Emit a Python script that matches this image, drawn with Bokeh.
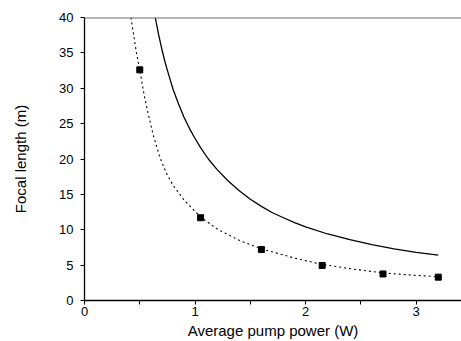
from bokeh.plotting import figure
from bokeh.models import Range1d, FixedTicker, Span
from bokeh.embed import file_html
from bokeh.resources import INLINE

# Measured data points
power_pts = [0.50, 1.05, 1.60, 2.15, 2.70, 3.20]
focal_pts = [32.6, 11.7, 7.2, 4.95, 3.75, 3.3]

# Dashed fitted curve
dash_p = [0.42, 0.45, 0.47, 0.50, 0.54, 0.57, 0.62, 0.68, 0.74, 0.80, 0.90, 1.05, 1.20, 1.40, 1.60, 1.90, 2.15, 2.40, 2.70, 3.00, 3.20]
dash_f = [40.0, 37.0, 35.0, 32.6, 29.0, 26.8, 23.5, 20.3, 18.0, 16.3, 14.2, 11.8, 10.1, 8.5, 7.3, 6.0, 5.1, 4.5, 3.9, 3.55, 3.35]

# Solid curve
solid_p = [0.64, 0.67, 0.70, 0.73, 0.76, 0.80, 0.85, 0.90, 0.95, 1.00, 1.05, 1.12, 1.20, 1.30, 1.40, 1.50, 1.60, 1.70, 1.80, 1.90, 2.00, 2.20, 2.40, 2.60, 2.80, 3.00, 3.20]
solid_f = [40.0, 37.6, 35.5, 33.6, 32.0, 29.9, 27.8, 25.9, 24.3, 22.9, 21.6, 20.0, 18.5, 16.9, 15.5, 14.3, 13.3, 12.4, 11.7, 11.0, 10.4, 9.4, 8.6, 7.9, 7.3, 6.8, 6.4]

x_ticks = [0, 0.5, 1, 1.5, 2, 2.5, 3]
x_labels = {0: "0", 0.5: "", 1: "1", 1.5: "", 2: "2", 2.5: "", 3: "3"}
y_ticks = [0, 5, 10, 15, 20, 25, 30, 35, 40]

FONT = "Liberation Sans"

p = figure(width=461, height=341, output_backend="svg", toolbar_location=None,
           x_range=Range1d(0, 3.41), y_range=Range1d(0, 40),
           min_border_left=84, min_border_right=0, min_border_top=17, min_border_bottom=41)
p.outline_line_color = None
p.grid.visible = False
p.background_fill_color = "white"

p.line(solid_p, solid_f, line_color="black", line_width=1.3)
p.line(dash_p, dash_f, line_color="black", line_width=1.1, line_dash="2 3")
p.scatter(power_pts, focal_pts, marker="square", size=6, color="black")

p.add_layout(Span(location=40, dimension="width", line_color="#6e6e6e", line_width=2))

xa = p.xaxis[0]
xa.ticker = FixedTicker(ticks=x_ticks)
xa.major_label_overrides = x_labels
xa.minor_tick_line_color = None
xa.major_tick_in = 0
xa.major_tick_out = 4
xa.major_label_standoff = 2
xa.axis_label = "Average pump power (W)"
xa.axis_label_standoff = 3
xa.axis_label_text_font = FONT
xa.axis_label_text_font_style = "normal"
xa.axis_label_text_font_size = "15px"
xa.major_label_text_font = FONT
xa.major_label_text_font_size = "13px"
xa.axis_line_width = 1.3

ya = p.yaxis[0]
ya.ticker = FixedTicker(ticks=y_ticks)
ya.minor_tick_line_color = None
ya.major_tick_in = 0
ya.major_tick_out = 4
ya.major_label_standoff = 7
ya.axis_label = "Focal length (m)"
ya.axis_label_standoff = 27
ya.axis_label_text_font = FONT
ya.axis_label_text_font_style = "normal"
ya.axis_label_text_font_size = "15px"
ya.major_label_text_font = FONT
ya.major_label_text_font_size = "13px"
ya.axis_line_width = 1.3

for ax in (xa, ya):
    ax.axis_line_color = "black"
    ax.major_tick_line_color = "black"
    ax.major_label_text_color = "black"
    ax.axis_label_text_color = "black"

open("out.html", "w").write(file_html(p, INLINE))
